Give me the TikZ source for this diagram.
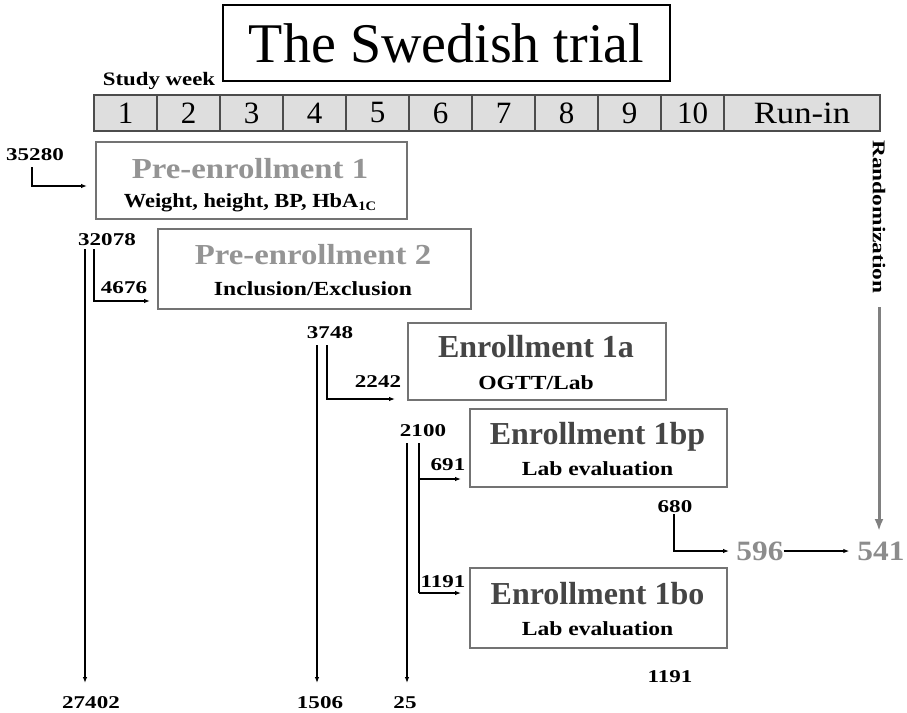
\documentclass[tikz,border=0pt]{standalone}
\usepackage{fontspec}
\setmainfont{Liberation Serif}
\usetikzlibrary{arrows.meta}
\definecolor{boxgray}{gray}{0.45}
\definecolor{bardark}{gray}{0.3}
\definecolor{barfill}{gray}{0.87}
\definecolor{pregray}{gray}{0.58}
\definecolor{enrgray}{gray}{0.27}
\definecolor{numgray}{gray}{0.55}
\definecolor{randgray}{gray}{0.5}
\newcommand{\fs}[1]{\fontsize{#1}{#1}\selectfont}
\newcommand{\sx}[2]{\scalebox{#1}[1]{#2}}
\tikzset{
  stagebox/.style={draw=boxgray, line width=2pt, inner sep=0pt, anchor=north west},
  pretitle/.style={font=\fs{29}\bfseries, text=pregray, inner sep=0pt, anchor=base},
  enrtitle/.style={font=\fs{32}\bfseries, text=enrgray, inner sep=0pt, anchor=base},
  subtitle/.style={font=\fs{20}\bfseries, text=black, inner sep=0pt, anchor=base},
  num/.style={font=\fs{18}\bfseries, inner sep=0pt, anchor=base},
  bignum/.style={font=\fs{28}\bfseries, text=numgray, inner sep=0pt, anchor=base},
  weekcell/.style={draw=bardark, fill=barfill, line width=1.6pt, minimum height=36pt, inner sep=0pt, font=\fs{31}},
  arr/.style={draw=black, line width=1.1pt, -{Latex[length=6pt,width=4.5pt]}},
  conn/.style={draw=black, line width=1.1pt},
}
\begin{document}
\begin{tikzpicture}[x=1pt,y=-1pt]
\useasboundingbox (0,0) rectangle (907,712);
% title
\node[draw=black, line width=1.3pt, minimum width=447pt, minimum height=76pt, inner sep=0pt, font=\fs{56}] (title) at (446.5,43) {The Swedish trial};
\node[font=\fs{19}\bfseries, inner sep=0pt, anchor=base] (sw) at (159,85) {\sx{1.2}{Study week}};
% week bar
\foreach \i in {1,...,10}{
  \node[weekcell, minimum width=63pt] (w\i) at ({94+63*(\i-0.5)},113) {\i};
}
\node[weekcell, minimum width=156pt] (wr) at (802,113) {\sx{1.12}{Run-in}};
% boxes
\node[stagebox, minimum width=311pt, minimum height=77pt] (pe1) at (95,141) {};
\node[pretitle] (pe1t) at (250,178) {\sx{1.13}{Pre-enrollment 1}};
\node[subtitle] (pe1s) at (250,207) {\sx{1.12}{Weight, height, BP, HbA\raisebox{-0.35ex}{\fs{13}1C}}};
\node[stagebox, minimum width=313pt, minimum height=80pt] (pe2) at (157,228) {};
\node[pretitle] (pe2t) at (313,264) {\sx{1.13}{Pre-enrollment 2}};
\node[subtitle] (pe2s) at (313,295) {\sx{1.18}{Inclusion/Exclusion}};
\node[stagebox, minimum width=258pt, minimum height=77pt] (e1a) at (407,322) {};
\node[enrtitle] (e1at) at (536,357) {Enrollment 1a};
\node[subtitle] (e1as) at (536,389) {\sx{1.18}{OGTT/Lab}};
\node[stagebox, minimum width=257pt, minimum height=78pt] (e1bp) at (469,408) {};
\node[enrtitle] (e1bpt) at (597.5,444) {Enrollment 1bp};
\node[subtitle] (e1bps) at (597.5,475) {\sx{1.18}{Lab evaluation}};
\node[stagebox, minimum width=257pt, minimum height=80pt] (e1bo) at (469,567) {};
\node[enrtitle] (e1bot) at (597.5,604) {Enrollment 1bo};
\node[subtitle] (e1bos) at (597.5,635) {\sx{1.18}{Lab evaluation}};
% numbers
\node[num] (n35280) at (35,160) {\sx{1.28}{35280}};
\node[num] (n32078) at (107,245) {\sx{1.28}{32078}};
\node[num] (n4676) at (124,293) {\sx{1.28}{4676}};
\node[num] (n3748) at (330,338) {\sx{1.28}{3748}};
\node[num] (n2242) at (378,387) {\sx{1.28}{2242}};
\node[num] (n2100) at (423,436) {\sx{1.28}{2100}};
\node[num] (n691) at (448,470) {\sx{1.28}{691}};
\node[num] (n1191a) at (443,587) {\sx{1.28}{1191}};
\node[num] (n680) at (675,512) {\sx{1.28}{680}};
\node[num] (n1191b) at (670,682) {\sx{1.28}{1191}};
\node[num] (n27402) at (91,708) {\sx{1.28}{27402}};
\node[num] (n1506) at (320,708) {\sx{1.28}{1506}};
\node[num] (n25) at (405,708) {\sx{1.28}{25}};
\node[bignum] (n596) at (760,560) {\sx{1.12}{596}};
\node[bignum] (n541) at (881,560) {\sx{1.12}{541}};
\node[font=\fs{18}\bfseries, inner sep=0pt, rotate=-90] (rand) at (879,217) {\sx{1.3}{Randomization}};
% coordinates
\coordinate (a0) at (32,167);
\coordinate (a0e) at (87,186);
\coordinate (b1) at (85,249);
\coordinate (b2) at (94,249);
\coordinate (b2e) at (150,301);
\coordinate (c1) at (317,345);
\coordinate (c2) at (327,345);
\coordinate (c2e) at (395,399);
\coordinate (d1) at (407,443);
\coordinate (d2) at (419,443);
\coordinate (d2a) at (461,479);
\coordinate (d2b) at (461,593);
\coordinate (f1) at (674,514);
\coordinate (f1e) at (729,551);
\coordinate (r1) at (879,307);
\coordinate (r1e) at (879,531);
% connectors
\draw[arr] (a0) |- (a0e);
\draw[arr] (b1) -- (b1 |- 0,683);
\draw[arr] (b2) |- (b2e);
\draw[arr] (c1) -- (c1 |- 0,683);
\draw[arr] (c2) |- (c2e);
\draw[arr] (d1) -- (d1 |- 0,683);
\draw[conn] (d2) -- (d2 |- d2b);
\draw[arr] (d2 |- d2a) -- (d2a);
\draw[arr] (d2 |- d2b) -- (d2b);
\draw[arr] (f1) |- (f1e);
\draw[arr] (n596.east |- f1e) -- ([xshift=-8pt]n541.west |- f1e);
\draw[draw=randgray, line width=3pt, -{Latex[length=12pt,width=9pt]}] (r1) -- (r1e);
\end{tikzpicture}
\end{document}
